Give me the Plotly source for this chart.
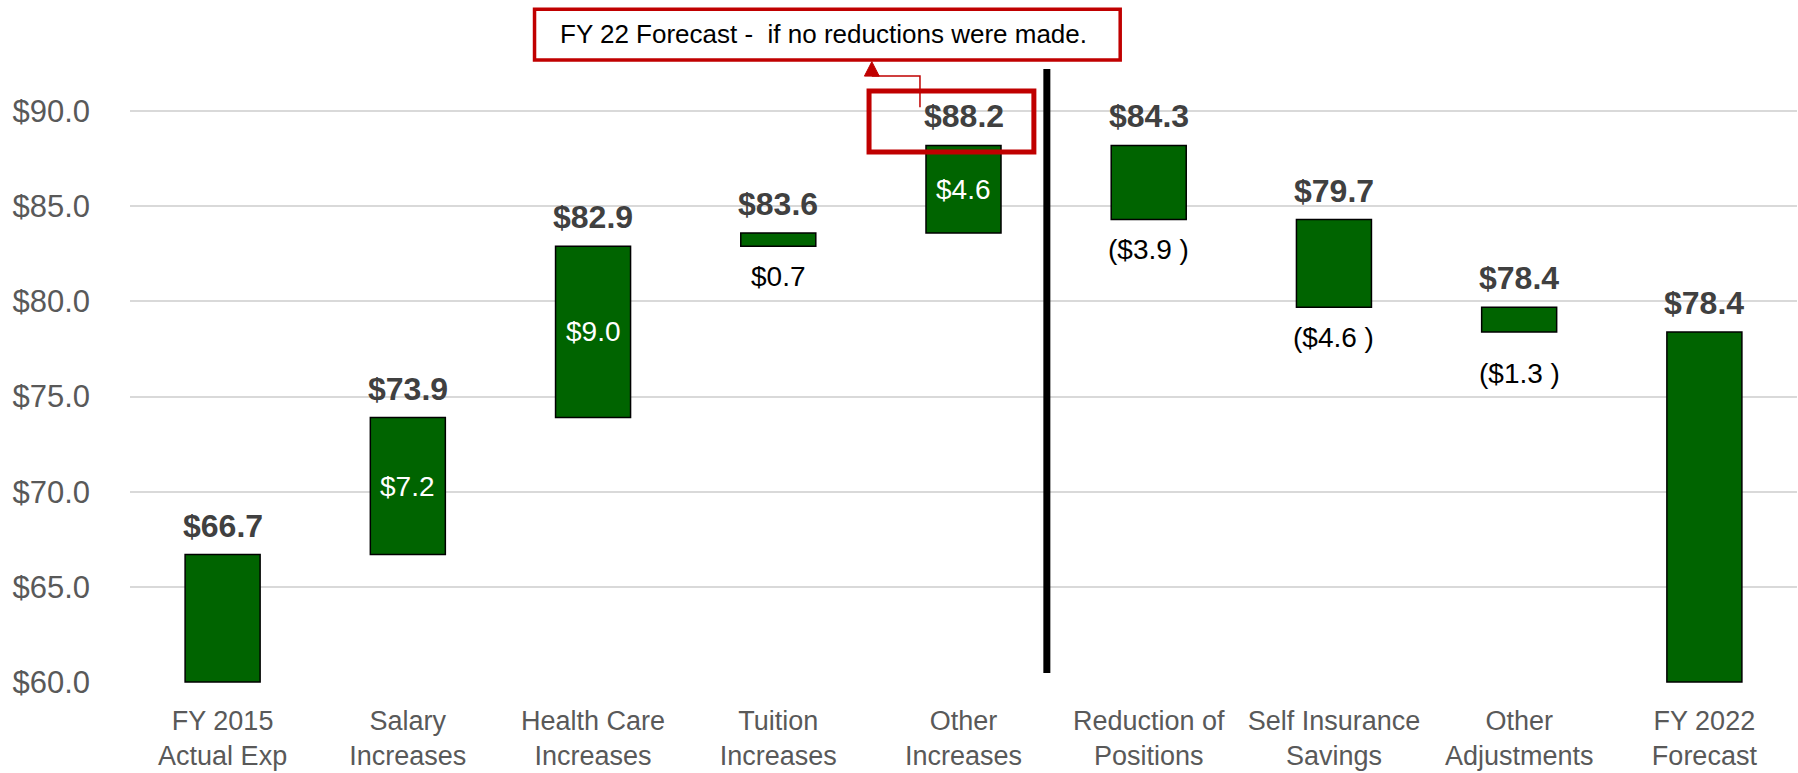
import plotly.graph_objects as go

# ---------------- data ----------------
categories = ["FY 2015<br>Actual Exp", "Salary<br>Increases", "Health Care<br>Increases",
              "Tuition<br>Increases", "Other<br>Increases", "Reduction of<br>Positions",
              "Self Insurance<br>Savings", "Other<br>Adjustments", "FY 2022<br>Forecast"]
start_value = 66.7
changes = [7.2, 9.0, 0.7, 4.6, -3.9, -4.6, -1.3]
axis_floor = 60.0
y_tickvals = [60, 65, 70, 75, 80, 85, 90]
y_ticktext = ["$60.0", "$65.0", "$70.0", "$75.0", "$80.0", "$85.0", "$90.0"]
note_text = "FY 22 Forecast -\u00a0 if no reductions were made."

# ---------------- derived bar geometry ----------------
bases, heights, totals, change_vals = [], [], [], []
bases.append(axis_floor); heights.append(start_value - axis_floor); totals.append(start_value); change_vals.append(None)
running = start_value
for d in changes:
    new = round(running + d, 1)
    bases.append(min(running, new)); heights.append(abs(d)); totals.append(new); change_vals.append(d)
    running = new
bases.append(axis_floor); heights.append(running - axis_floor); totals.append(running); change_vals.append(None)

xs = list(range(len(categories)))
GREEN = "#006400"
FONT = "Liberation Sans"
# pixel offset for labels placed under a bar (the last adjustment label sits lower)
below_offset = {7: -42}

fig = go.Figure()
fig.add_trace(go.Bar(x=xs, y=heights, base=bases, width=0.405,
                     marker=dict(color=GREEN, line=dict(color="black", width=1.5)),
                     hoverinfo="skip", showlegend=False))

annotations = []
for i in xs:
    top = bases[i] + heights[i]
    bot = bases[i]
    annotations.append(dict(x=i, y=top, xref="x", yref="y", text="$%.1f" % totals[i],
                            showarrow=False, yshift=29, yanchor="middle",
                            font=dict(family=FONT, size=32, color="#404040", weight="bold")))
    d = change_vals[i]
    if d is None:
        continue
    if d > 0:
        txt = "$%.1f" % d
    else:
        txt = "($%.1f )" % abs(d)
    if d > 0 and abs(d) >= 2:
        annotations.append(dict(x=i, y=(top + bot) / 2, xref="x", yref="y", text=txt,
                                showarrow=False, yanchor="middle",
                                font=dict(family=FONT, size=28, color="white")))
    else:
        annotations.append(dict(x=i, y=bot, xref="x", yref="y", text=txt,
                                showarrow=False, yshift=below_offset.get(i, -30), yanchor="middle",
                                font=dict(family=FONT, size=28, color="black")))

# note text
annotations.append(dict(x=3.243, y=94.05, xref="x", yref="y", text=note_text, showarrow=False,
                        xanchor="center", yanchor="middle",
                        font=dict(family=FONT, size=26, color="black")))

RED = "#C00000"
shapes = [
    # divider line
    dict(type="line", xref="x", yref="y", x0=4.45, x1=4.45, y0=60.47, y1=92.21,
         line=dict(color="black", width=7)),
    # note box
    dict(type="rect", xref="x", yref="y", x0=1.684, x1=4.846, y0=92.69, y1=95.36,
         line=dict(color=RED, width=3.5), fillcolor="white"),
    # highlight box around $88.2
    dict(type="rect", xref="x", yref="y", x0=3.49, x1=4.38, y0=87.85, y1=91.06,
         line=dict(color=RED, width=5)),
    # elbow connector
    dict(type="path", xref="x", yref="y", path="M 3.765 90.21 L 3.765 91.84 L 3.505 91.84",
         line=dict(color=RED, width=1.5)),
    # arrow head
    dict(type="path", xref="x", yref="y", path="M 3.465 91.84 L 3.545 91.84 L 3.505 92.6 Z",
         fillcolor=RED, line=dict(color=RED, width=1)),
]

fig.update_layout(
    width=1798, height=773,
    margin=dict(l=130, r=1, t=0, b=90),
    paper_bgcolor="white", plot_bgcolor="white",
    annotations=annotations, shapes=shapes,
    xaxis=dict(range=[-0.5, 8.5], tickvals=xs, ticktext=categories, showgrid=False,
               zeroline=False, showline=False, ticks="",
               tickfont=dict(family=FONT, size=27, color="#595959"), ticklabelstandoff=19),
    yaxis=dict(range=[59.95, 95.84], tickvals=y_tickvals, ticktext=y_ticktext,
               showgrid=True, gridcolor="#D9D9D9", gridwidth=2, zeroline=False, showline=False,
               ticks="", tickfont=dict(family=FONT, size=31, color="#595959"),
               ticklabelstandoff=39),
    bargap=0.6,
)

fig.write_html("out.html", config={"displayModeBar": False},
               post_script="document.body.style.margin='0';")
